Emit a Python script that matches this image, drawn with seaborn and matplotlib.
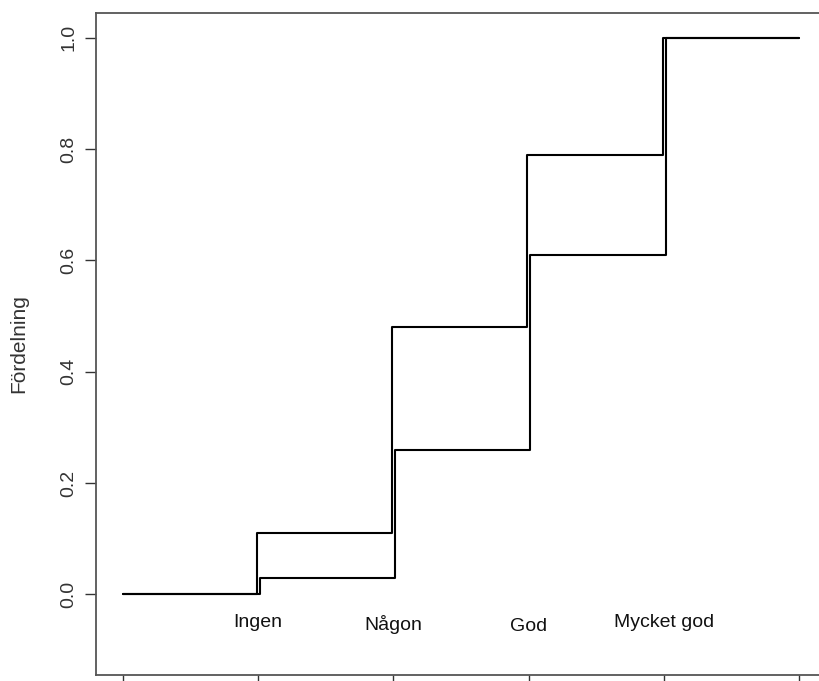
import matplotlib
matplotlib.use('Agg')
import matplotlib.pyplot as plt
import seaborn as sns
import pandas as pd

# ─── data ───
categories = ['Ingen', 'Någon', 'God', 'Mycket god']
x_levels = [0, 1, 2, 3, 4, 5]
cum_upper = [0.0, 0.11, 0.48, 0.79, 1.0, 1.0]
cum_lower = [0.0, 0.03, 0.26, 0.61, 1.0, 1.0]
label_y = [-0.050, -0.055, -0.058, -0.050]
y_ticks = [0.0, 0.2, 0.4, 0.6, 0.8, 1.0]

# ─── style ───
sns.set_style('white')
plt.rcParams['font.family'] = ['Liberation Sans', 'DejaVu Sans']

W, H = 819, 681
fig = plt.figure(figsize=(W / 100, H / 100), dpi=100)
left, right_px, top, bottom = 95.7, 826.5, 12.7, 675.0
ax = fig.add_axes([left / W, 1 - bottom / H, (right_px - left) / W, (bottom - top) / H])

# the two curves jump a hair apart so both stay visible
shift = {'upper': -0.01, 'lower': 0.012}
rows = []
for name, vals in [('upper', cum_upper), ('lower', cum_lower)]:
    for i, (x, y) in enumerate(zip(x_levels, vals)):
        xx = x + (shift[name] if 0 < i < len(x_levels) - 1 else 0)
        rows.append({'serie': name, 'x': xx, 'y': y, 'order': i})
df = pd.DataFrame(rows)

for name in ['upper', 'lower']:
    sub = df[df['serie'] == name]
    sns.lineplot(data=sub, x='x', y='y', ax=ax, color='black', linewidth=1.5,
                 drawstyle='steps-post', sort=False, estimator=None, legend=False)

for i, (cat, ly) in enumerate(zip(categories, label_y)):
    ax.text(x_levels[i + 1], ly, cat, ha='center', va='center', fontsize=14, color='#111111')

ax.set_xlim(-0.2, 5.2)
ax.set_ylim(-0.145, 1.045)
ax.set_xticks(x_levels)
ax.set_xticklabels([])
ax.set_yticks(y_ticks)
ax.set_yticklabels([f'{v:.1f}' for v in y_ticks], rotation=90, va='center', fontsize=14, color='#333333')
ax.tick_params(axis='both', left=True, bottom=True, direction='out', length=8,
               width=1.0, color='#333333', pad=5)
ax.set_xlabel('')
ax.set_ylabel('')
for s in ax.spines.values():
    s.set_visible(True)
    s.set_color('#555555')
    s.set_linewidth(1.3)

fig.text(19 / W, 1 - 344 / H, 'Fördelning', rotation=90, ha='center', va='center',
         fontsize=15, color='#333333')

plt.savefig('out.png', dpi=100)
plt.close()
